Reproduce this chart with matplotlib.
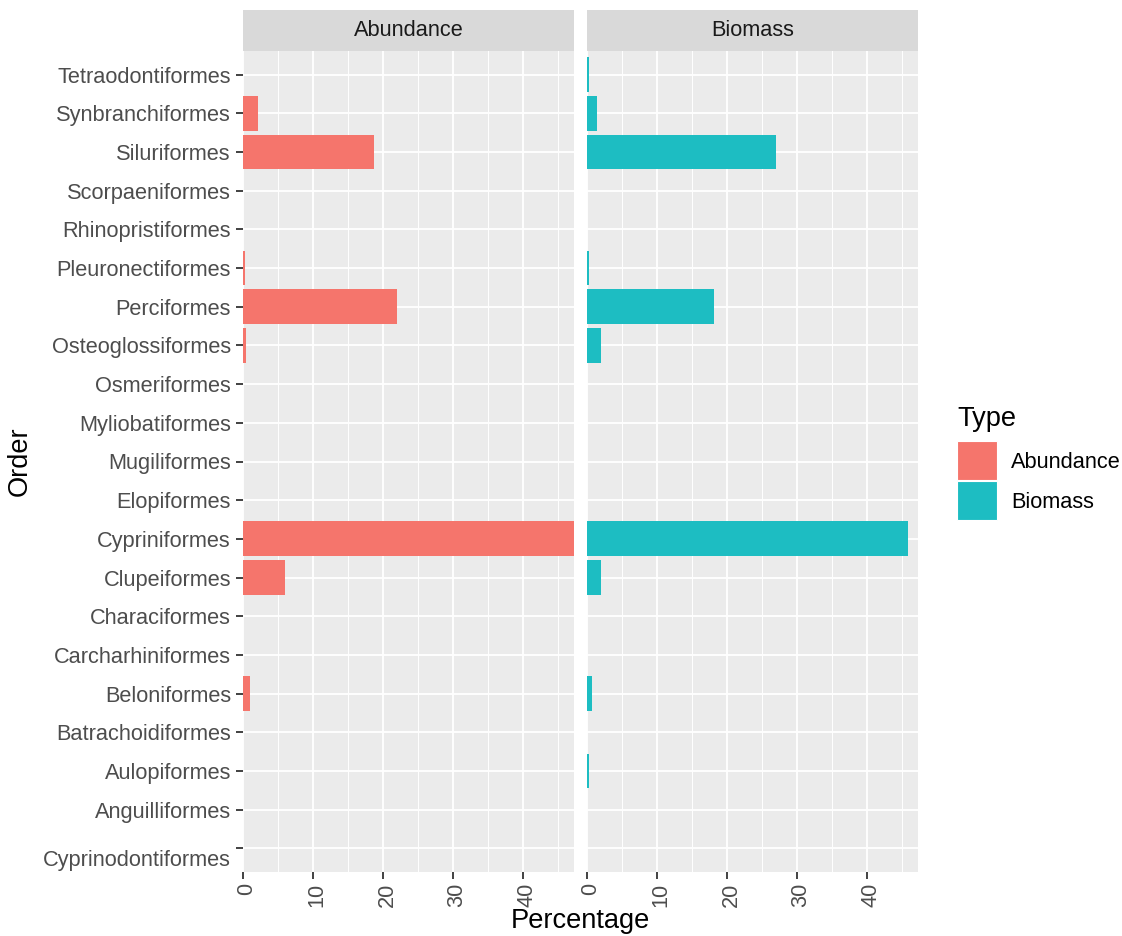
import matplotlib
matplotlib.use("Agg")
import matplotlib.pyplot as plt
import matplotlib.transforms as mtransforms
from matplotlib.patches import Rectangle

plt.rcParams["font.family"] = ["Liberation Sans", "DejaVu Sans"]

# ---- data ----
orders = ["Cyprinodontiformes", "Anguilliformes", "Aulopiformes", "Batrachoidiformes",
          "Beloniformes", "Carcharhiniformes", "Characiformes", "Clupeiformes",
          "Cypriniformes", "Elopiformes", "Mugiliformes", "Myliobatiformes",
          "Osmeriformes", "Osteoglossiformes", "Perciformes", "Pleuronectiformes",
          "Rhinopristiformes", "Scorpaeniformes", "Siluriformes", "Synbranchiformes",
          "Tetraodontiformes"]
abundance = [0, 0, 0, 0, 1.0, 0, 0, 6.0, 47.3, 0, 0, 0, 0, 0.5, 22.0, 0.25,
             0, 0, 18.7, 2.2, 0]
biomass = [0, 0, 0.25, 0, 0.75, 0, 0, 2.0, 45.9, 0, 0, 0, 0, 2.0, 18.2, 0.25,
           0, 0, 27.0, 1.5, 0.25]
types = ["Abundance", "Biomass"]
colors = ["#F5756C", "#1DBDC2"]
x_major = [0, 10, 20, 30, 40]
x_minor = [5, 15, 25, 35, 45]
x_max = 47.3

# ---- layout ----
W, H = 1122, 936
fig = plt.figure(figsize=(W / 100, H / 100), dpi=100)

def fx(px):
    return px / W

def fy(py):
    return 1 - py / H

panel_top, panel_bot = 51.3, 871.7
panels = [(243, 574), (587, 918)]
tick_fs = 15.7
title_fs = 19.6
txt_col = "#4D4D4D"

axes = []
for i, (x0, x1) in enumerate(panels):
    ax = fig.add_axes([fx(x0), fy(panel_bot), fx(x1) - fx(x0), fy(panel_top) - fy(panel_bot)])
    ax.set_facecolor("#EBEBEB")
    vals = abundance if i == 0 else biomass
    ax.barh(range(len(orders)), vals, height=0.9, color=colors[i], zorder=3)
    ax.set_xlim(0, x_max)
    ax.set_ylim(-0.6, len(orders) - 1 + 0.6)
    ax.set_xticks(x_major)
    ax.set_xticks(x_minor, minor=True)
    ax.set_xticklabels([str(v) for v in x_major], rotation=90)
    ax.set_yticks(range(len(orders)))
    ax.set_axisbelow(True)
    ax.grid(which="major", color="white", lw=1.3, zorder=0)
    ax.grid(which="minor", axis="x", color="white", lw=0.7, zorder=0)
    for s in ax.spines.values():
        s.set_visible(False)
    ax.tick_params(axis="x", which="major", length=5.2, width=1.3, color="#333333",
                   labelsize=tick_fs, labelcolor=txt_col, pad=3)
    ax.tick_params(axis="x", which="minor", length=0)
    if i == 0:
        ax.set_yticklabels(orders)
        ax.tick_params(axis="y", length=5.2, width=1.3, color="#333333",
                       labelsize=tick_fs, labelcolor=txt_col, pad=3.5)
        lab = ax.get_yticklabels()[0]
        lab.set_transform(lab.get_transform() +
                          mtransforms.ScaledTranslation(0, -10 / 100, fig.dpi_scale_trans))
    else:
        ax.tick_params(axis="y", length=0, labelleft=False)
    for lab in ax.get_xticklabels():
        lab.set_transform(lab.get_transform() +
                          mtransforms.ScaledTranslation(4 / 100, 0, fig.dpi_scale_trans))
    axes.append(ax)

    # strip
    sax = fig.add_axes([fx(x0), fy(51), fx(x1) - fx(x0), 41 / H])
    sax.set_facecolor("#D9D9D9")
    sax.set_xticks([])
    sax.set_yticks([])
    for s in sax.spines.values():
        s.set_visible(False)
    sax.text(0.5, 0.5, types[i], ha="center", va="center", fontsize=tick_fs,
             color="#1A1A1A", transform=sax.transAxes)

# axis titles
fig.text(fx(20), fy((panel_top + panel_bot) / 2), "Order", rotation=90,
         ha="center", va="center", fontsize=title_fs, color="black")
fig.text(fx((243 + 918) / 2), fy(921), "Percentage", ha="center", va="center",
         fontsize=title_fs, color="black")

# legend
fig.text(fx(957), fy(419), "Type", ha="left", va="center", fontsize=title_fs, color="black")
key_tops = [441, 481]
for t, c, ky in zip(types, colors, key_tops):
    fig.add_artist(Rectangle((fx(957), fy(ky + 39)), fx(997) - fx(957), 39 / H,
                             transform=fig.transFigure, facecolor=c,
                             edgecolor="white", lw=0.8))
    fig.text(fx(1011), fy(ky + 21), t, ha="left", va="center", fontsize=tick_fs,
             color="black")

fig.savefig("out.png", dpi=100, facecolor="white")
